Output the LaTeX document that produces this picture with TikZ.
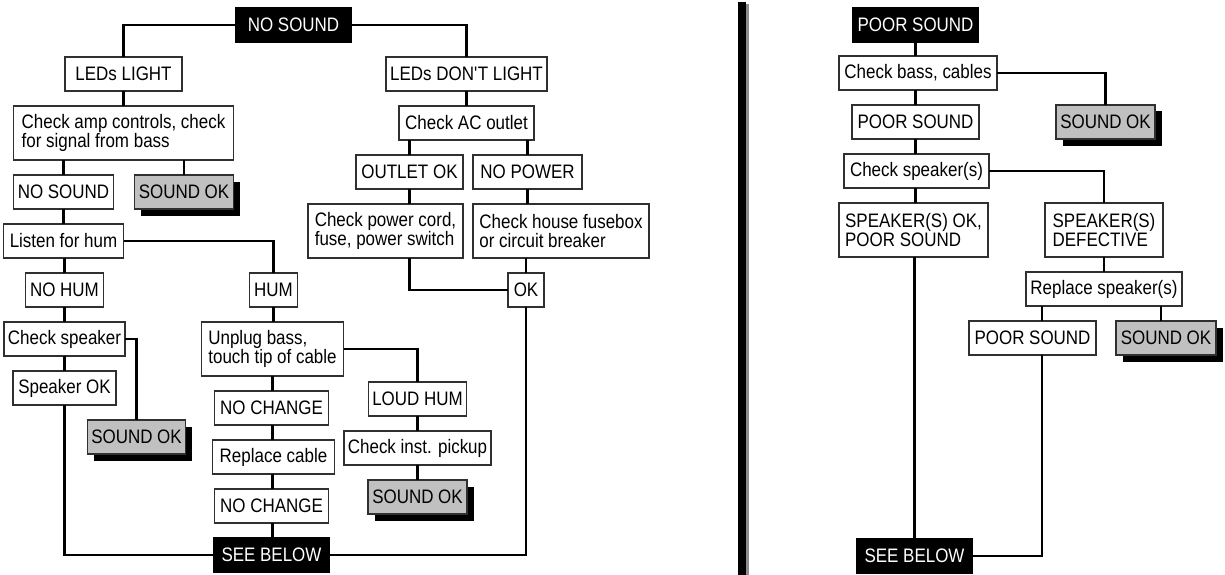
\documentclass[tikz,border=0pt]{standalone}
\usepackage{fontspec}
\setmainfont{Liberation Sans}[FakeStretch=0.87]
\usetikzlibrary{positioning, shadows}
\definecolor{okgray}{HTML}{C0C0C0}
\definecolor{rim}{HTML}{303030}
\tikzstyle{head} = [rectangle, minimum width=117pt, minimum height=36pt, inner sep=0pt, outer sep=0pt, text=white, fill=black]
\tikzstyle{check} = [rectangle, minimum height=34pt, inner sep=3pt, outer sep=0pt, draw=rim, line width=1.3pt, fill=white, align=left]
\tikzstyle{fixed} = [check, fill=okgray, drop shadow={fill=black, opacity=1, shadow xshift=6.5pt, shadow yshift=-6.5pt}]
\tikzstyle{twoline} = [minimum height=54pt]
\tikzstyle{link} = [line width=2.6pt]

\begin{document}
\begin{tikzpicture}[x=1pt, y=-1pt, node distance=15pt, font=\fontsize{19.5pt}{19.5pt}\selectfont]
  \useasboundingbox (0,0) rectangle (1225,575);
  % no sound
  \node (nosnd) [head] at (293.5,25) {NO SOUND};
  \node (ledyes) [check, minimum width=117pt, below=14pt of nosnd, xshift=-170pt] {LEDs LIGHT};
  \node (ledno) [check, minimum width=161pt, below=14pt of nosnd, xshift=173pt] {LEDs DON\textquotesingle T LIGHT};
  \node (amp) [check, twoline, minimum width=220pt, below=of ledyes] {Check amp controls, check\\for signal from bass};
  \node (nosnd2) [check, minimum width=100pt, below=of amp, xshift=-60pt] {NO SOUND};
  \node (ok1) [fixed, minimum width=99pt, below=of amp, xshift=60.5pt] {SOUND OK};
  \node (hum) [check, minimum width=120pt, below=of nosnd2] {Listen for hum};
  \node (nohum) [check, minimum width=78pt, below=of hum, xshift=1pt] {NO HUM};
  \node (humyes) [check, minimum width=48pt, right=146pt of nohum] {HUM};
  \node (spk) [check, minimum width=121pt, below=of nohum] {Check speaker};
  \node (spkok) [check, minimum width=103pt, below=of spk] {Speaker OK};
  \node (ok2) [fixed, minimum width=98pt, below=of spkok, xshift=72pt] {SOUND OK};
  \node (unplug) [check, twoline, minimum width=142pt, below=of humyes, xshift=-1pt] {Unplug bass,\\touch tip of cable};
  \node (loud) [check, minimum width=98pt, below=6pt of unplug, xshift=145pt] {LOUD HUM};
  \node (pickup) [check, minimum width=147pt, below=of loud] {Check inst. pickup};
  \node (ok3) [fixed, minimum width=99pt, below=of pickup] {SOUND OK};
  \node (nochg1) [check, minimum width=114pt, below=of unplug, xshift=-1pt] {NO CHANGE};
  \node (cable) [check, minimum width=122pt, below=of nochg1, xshift=2pt] {Replace cable};
  \node (nochg2) [check, minimum width=114pt, below=of cable, xshift=-2pt] {NO CHANGE};
  \node (below1) [head, below=14pt of nochg2] {SEE BELOW};
  \node (acout) [check, minimum width=135pt, below=of ledno] {Check AC outlet};
  \node (outok) [check, minimum width=107pt, below=of acout, xshift=-57pt] {OUTLET OK};
  \node (nopow) [check, minimum width=109pt, below=of acout, xshift=61pt] {NO POWER};
  \node (cord) [check, twoline, minimum width=155pt, below=of outok, xshift=-24pt] {Check power cord,\\fuse, power switch};
  \node (fuse) [check, twoline, minimum width=176pt, below=of nopow, xshift=33.5pt] {Check house fusebox\\or circuit breaker};
  \node (okp) [check, minimum width=36pt, below=of fuse, xshift=-35pt] {OK};
  \draw [link] (nosnd.west) -| (ledyes.north);
  \draw [link] (nosnd.east) -| (ledno.north);
  \draw [link] (ledyes.south) -- (ledyes.south |- amp.north);
  \draw [link] (nosnd2.north |- amp.south) -- (nosnd2.north);
  \draw [link] (ok1.north |- amp.south) -- (ok1.north);
  \draw [link] (nosnd2.south) -- (nosnd2.south |- hum.north);
  \draw [link] (hum.east) -| (humyes.north);
  \draw [link] (nohum.north |- hum.south) -- (nohum.north);
  \draw [link] (nohum.south) -- (nohum.south |- spk.north);
  \draw [link] (spk.east) -| (ok2.north);
  \draw [link] (nohum.south |- spk.south) -- (nohum.south |- spkok.north);
  \draw [link] (nohum.south |- spkok.south) |- (below1.west);
  \draw [link] (humyes.south) -- (humyes.south |- unplug.north);
  \draw [link] (unplug.east) -| (loud.north);
  \draw [link] (loud.south) -- (loud.south |- pickup.north);
  \draw [link] (loud.south |- pickup.south) -- (loud.south |- ok3.north);
  \draw [link] (unplug.south) -- (unplug.south |- nochg1.north);
  \draw [link] (unplug.south |- nochg1.south) -- (unplug.south |- cable.north);
  \draw [link] (unplug.south |- cable.south) -- (unplug.south |- nochg2.north);
  \draw [link] (unplug.south |- nochg2.south) -- (unplug.south |- below1.north);
  \draw [link] (below1.east) -| (okp.south);
  \draw [link] (ledno.south) -- (ledno.south |- acout.north);
  \draw [link] (outok.north |- acout.south) -- (outok.north);
  \draw [link] (nopow.north |- acout.south) -- (nopow.north);
  \draw [link] (outok.south) -- (outok.south |- cord.north);
  \draw [link] (outok.south |- cord.south) |- (okp.west);
  \draw [link] (nopow.south) -- (nopow.south |- fuse.north);
  \draw [link] (okp.north |- fuse.south) -- (okp.north);
  % divider
  \fill [black!45] (745,4) rectangle (749,575);
  \fill (738,2) rectangle (746,575);
  % poor sound
  \node (poor) [head, minimum width=127pt] at (915.5,25) {POOR SOUND};
  \node (bass) [check, minimum width=158pt, below=13pt of poor, xshift=2.5pt] {Check bass, cables};
  \node (poor2) [check, minimum width=127pt, below=of bass, xshift=-2.5pt] {POOR SOUND};
  \node (ok4) [fixed, minimum width=99pt, right=77pt of poor2] {SOUND OK};
  \node (spks) [check, minimum width=145pt, below=of poor2, xshift=1pt] {Check speaker(s)};
  \node (spksok) [check, twoline, minimum width=149pt, below=of spks, xshift=-3pt] {SPEAKER(S) OK,\\POOR SOUND};
  \node (defect) [check, twoline, minimum width=118pt, right=57pt of spksok] {SPEAKER(S)\\DEFECTIVE};
  \node (replace) [check, minimum width=156pt, below=of defect] {Replace speaker(s)};
  \node (poor3) [check, minimum width=127pt, below=of replace, xshift=-71.5pt] {POOR SOUND};
  \node (ok5) [fixed, minimum width=100pt, below=of replace, xshift=62pt] {SOUND OK};
  \node (below2) [head] at (914.5,556) {SEE BELOW};
  \draw [link] (poor.south) -- (poor.south |- bass.north);
  \draw [link] (bass.east) -| (ok4.north);
  \draw [link] (poor2.north |- bass.south) -- (poor2.north);
  \draw [link] (poor2.south) -- (poor2.south |- spks.north);
  \draw [link] (poor2.south |- spks.south) -- (poor2.south |- spksok.north);
  \draw [link] (spks.east) -| (defect.north);
  \draw [link] (defect.south) -- (replace.north);
  \draw [link] ([xshift=9.5pt]poor3.north |- replace.south) -- ([xshift=9.5pt]poor3.north);
  \draw [link] ([xshift=-5pt]ok5.north |- replace.south) -- ([xshift=-5pt]ok5.north);
  \draw [link] ([xshift=9.5pt]poor3.south) |- (below2.east);
  \draw [link] (below2.north |- spksok.south) -- (below2.north);
\end{tikzpicture}
\end{document}
